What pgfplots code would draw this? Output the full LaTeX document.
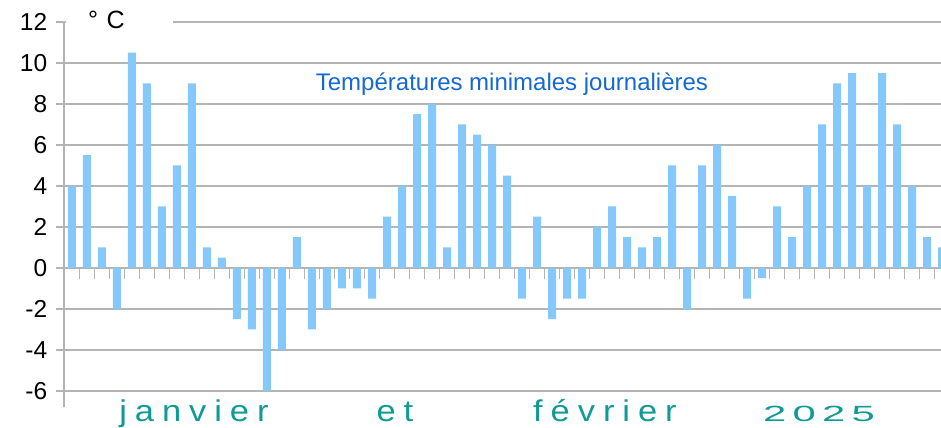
\documentclass[border=0pt]{standalone}
\usepackage{fontspec}
\setmainfont{Liberation Sans}
\usepackage{graphicx}
\usepackage{pgfplots}
\pgfplotsset{compat=1.18}
\definecolor{barblue}{RGB}{133,200,252}
\definecolor{titleblue}{RGB}{20,105,210}
\definecolor{tealtxt}{RGB}{16,154,150}
\definecolor{gridgray}{RGB}{180,180,180}
\begin{document}
\begin{tikzpicture}
\begin{axis}[
  at={(64bp,20.6bp)}, anchor=south west,
  scale only axis, width=885.5bp, height=385.4bp,
  xmin=0.467, xmax=59.5, ymin=-6.8, ymax=12,
  clip=false,
  axis y line*=left, axis x line*=middle,
  axis line style={gridgray, line width=1.2bp},
  ytick={-6,-4,...,12},
  ymajorgrids, grid style={gridgray, line width=1.2bp},
  xtick={1.5,2.5,...,58.5}, xticklabels={},
  tick align=outside,
  tick style={gridgray, line width=1.2bp},
  xtick style={/pgfplots/major tick length=11bp},
  ytick style={/pgfplots/major tick length=8bp},
  /pgf/number format/assume math mode=true,
  yticklabel style={font=\fontsize{24.5bp}{28bp}\selectfont, text=black, xshift=-9bp},
]
\addplot[ybar, bar width=8bp, fill=barblue, draw=none] coordinates {
(1,4) (2,5.5) (3,1) (4,-2) (5,10.5) (6,9) (7,3) (8,5) (9,9) (10,1)
(11,0.5) (12,-2.5) (13,-3) (14,-6) (15,-4) (16,1.5) (17,-3) (18,-2) (19,-1) (20,-1)
(21,-1.5) (22,2.5) (23,4) (24,7.5) (25,8) (26,1) (27,7) (28,6.5) (29,6) (30,4.5)
(31,-1.5) (32,2.5) (33,-2.5) (34,-1.5) (35,-1.5) (36,2) (37,3) (38,1.5) (39,1) (40,1.5)
(41,5) (42,-2) (43,5) (44,6) (45,3.5) (46,-1.5) (47,-0.5) (48,3) (49,1.5) (50,4)
(51,7) (52,9) (53,9.5) (54,4) (55,9.5) (56,7) (57,4) (58,1.5) (59,1)
};
\node[fill=white, inner sep=0pt, anchor=west, text width=107bp, align=left,
  font=\fontsize{25bp}{29bp}\selectfont, yshift=2bp] at (axis cs:0.6,12) {\hspace*{22bp}° C};
\node[anchor=base, text=titleblue, font=\fontsize{24bp}{28bp}\selectfont]
  at (axis cs:30.33,8.68) {Températures minimales journalières};
\node[anchor=base, text=tealtxt, font=\fontsize{30bp}{34bp}\selectfont]
  at (axis cs:9.13,-7.51) {\scalebox{1.15}[1]{\addfontfeature{LetterSpace=23}janvier}};
\node[anchor=base, text=tealtxt, font=\fontsize{30bp}{34bp}\selectfont]
  at (axis cs:22.53,-7.51) {\scalebox{1.15}[1]{\addfontfeature{LetterSpace=23}et}};
\node[anchor=base, text=tealtxt, font=\fontsize{30bp}{34bp}\selectfont]
  at (axis cs:36.53,-7.51) {\scalebox{1.15}[1]{\addfontfeature{LetterSpace=23}février}};
\node[anchor=base, text=tealtxt, font=\fontsize{22bp}{26bp}\selectfont]
  at (axis cs:50.8,-7.51) {\scalebox{1.9}[1]{\addfontfeature{LetterSpace=15}2025}};
\end{axis}
\pgfresetboundingbox
\useasboundingbox (0,0) rectangle (941bp,428bp);
\end{tikzpicture}
\end{document}
